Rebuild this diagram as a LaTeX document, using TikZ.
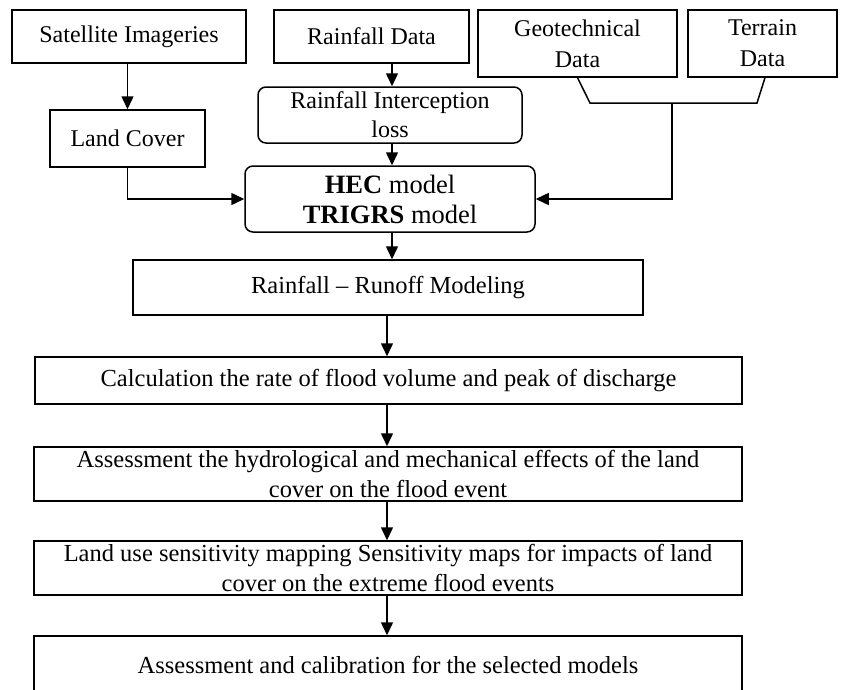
\documentclass[tikz,border=0pt]{standalone}
\usepackage{fontspec}
\setmainfont{Liberation Serif}
\usetikzlibrary{arrows.meta}
\begin{document}
\begin{tikzpicture}[x=1pt,y=-1pt,
  box/.style={draw, line width=1.5pt, inner sep=0pt, align=center,
    font=\fontsize{24}{29}\selectfont},
  tbox/.style={box, font=\fontsize{24}{31}\selectfont},
  lbox/.style={box, font=\fontsize{24.5}{30}\selectfont},
  rbox/.style={box, rounded corners=8pt},
  conn/.style={line width=1.5pt},
  arr/.style={conn, -{Triangle[length=13pt,width=12pt]}}]
\useasboundingbox (0,0) rectangle (843,689);
\node[box, minimum width=234, minimum height=53] (sat) at (129,36.5) {Satellite Imageries};
\node[box, minimum width=195, minimum height=53] (rain) at (371.5,36.5) {Rainfall Data};
\node[tbox, minimum width=199, minimum height=67] (geo) at (577.5,43.5) {Geotechnical\\Data};
\node[tbox, minimum width=149, minimum height=67] (ter) at (762.5,43.5) {Terrain\\Data};
\node[box, minimum width=155, minimum height=57] (lc) at (127.5,138.5) {Land Cover};
\node[rbox, minimum width=264, minimum height=56] (ric) at (390,115) {Rainfall Interception\\loss};
\node[rbox, minimum width=290, minimum height=66, font=\fontsize{26.5}{30}\selectfont] (hec) at (390,199) {\textbf{HEC} model\\\textbf{TRIGRS} model};
\node[lbox, minimum width=510, minimum height=55] (rr) at (388,287.5) {Rainfall -- Runoff Modeling};
\node[lbox, minimum width=707, minimum height=47] (calc) at (388.5,380.5) {Calculation the rate of flood volume and peak of discharge};
\node[lbox, minimum width=708, minimum height=54] (ass) at (388,474) {Assessment the hydrological and mechanical effects of the land\\cover on the flood event};
\node[lbox, minimum width=708, minimum height=54] (lu) at (388,568) {Land use sensitivity mapping Sensitivity maps for impacts of land\\cover on the extreme flood events};
\node[lbox, minimum width=708, minimum height=58] (fin) at (388,665) {Assessment and calibration for the selected models};
\coordinate (xa) at (392,0);
\coordinate (xb) at (387,0);
\coordinate (b2) at (590,103);
\coordinate (b3) at (757,103);
\coordinate (b4) at (765,0);
\coordinate (bm) at (672,103);
\draw[arr] (sat.south -| lc.south) -- (lc.north);
\draw[arr] (rain.south -| xa) -- (ric.north -| xa);
\draw[arr] (ric.south -| xa) -- (hec.north -| xa);
\draw[arr] (hec.south -| xa) -- (rr.north -| xa);
\draw[arr] (rr.south -| xb) -- (calc.north -| xb);
\draw[arr] (calc.south -| xb) -- (ass.north -| xb);
\draw[arr] (ass.south -| xb) -- (lu.north -| xb);
\draw[arr] (lu.south -| xb) -- (fin.north -| xb);
\draw[arr] (lc.south) |- (hec.west);
\draw[conn] (geo.south) -- (b2) -- (b3) -- (ter.south -| b4);
\draw[arr] (bm) |- (hec.east);
\end{tikzpicture}
\end{document}
